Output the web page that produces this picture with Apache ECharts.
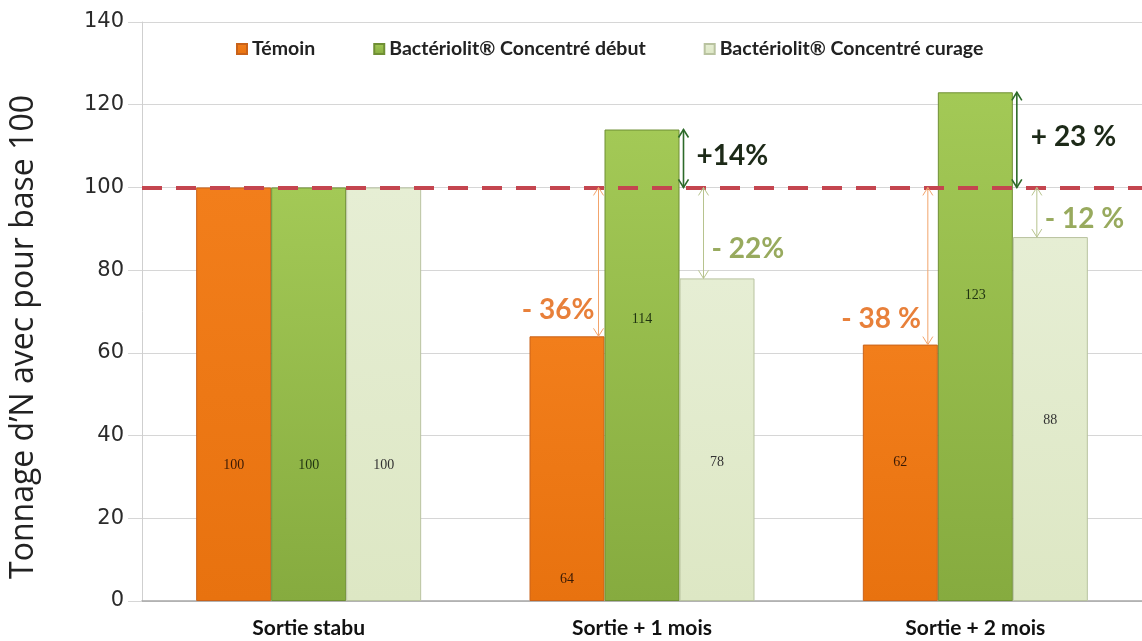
<!DOCTYPE html>
<html>
<head>
<meta charset="utf-8">
<script src="https://cdn.jsdelivr.net/npm/echarts@6/dist/echarts.min.js"></script>
<style>
  html, body { margin: 0; padding: 0; background: #fff; }
  #chart { width: 1142px; height: 641px; }
</style>
</head>
<body>
<div id="chart"></div>
<script>
var categories = ['Sortie stabu', 'Sortie + 1 mois', 'Sortie + 2 mois'];
var seriesNames = ['Témoin', 'Bactériolit® Concentré début', 'Bactériolit® Concentré curage'];
var temoin = [100, 64, 62];
var debut = [100, 114, 123];
var curage = [100, 78, 88];
var baseLine = 100;
// ecarts par rapport a la base 100
var gainDebut = ['', '+14%', '+ 23 %'];
var perteTemoin = ['', '- 36%', '- 38 %'];
var perteCurage = ['', '- 22%', '- 12 %'];

// where the value label sits, in px below the top of the bar
var labelDrop = [
    [278, 243, 118],
    [278, 190, 203],
    [278, 184, 183]
];

var BAR_W = 75;

function items(values, s) {
    return values.map(function (v, i) {
        return { value: v, label: { position: ['50%', labelDrop[s][i]] } };
    });
}

var colors = ['#ef7a17', '#97c04a', '#e2ebcd'];
var fills = [
    new echarts.graphic.LinearGradient(0, 0, 0, 1, [{ offset: 0, color: '#f27e1b' }, { offset: 1, color: '#e8720f' }]),
    new echarts.graphic.LinearGradient(0, 0, 0, 1, [{ offset: 0, color: '#a3c956' }, { offset: 1, color: '#86ab3f' }]),
    new echarts.graphic.LinearGradient(0, 0, 0, 1, [{ offset: 0, color: '#e6eed4' }, { offset: 1, color: '#dde7c4' }])
];
var borders = ['#c9621a', '#6f8f34', '#b9c3a0'];
var labelColors = ['#3a1a05', '#1f3311', '#333'];

var series = [temoin, debut, curage].map(function (vals, s) {
    return {
        name: seriesNames[s],
        type: 'bar',
        barWidth: BAR_W,
        barGap: '0%',
        data: items(vals, s),
        itemStyle: { color: fills[s], borderColor: borders[s], borderWidth: 1 },
        label: {
            show: true,
            align: 'center',
            verticalAlign: 'middle',
            fontFamily: 'Liberation Serif',
            fontSize: 14,
            color: labelColors[s]
        }
    };
});

// ligne de base 100
series[2].markLine = {
    silent: true,
    symbol: ['none', 'none'],
    label: { show: false },
    lineStyle: { color: '#c4454f', width: 4, type: [20, 14] },
    data: [{ yAxis: baseLine }]
};

var chart = echarts.init(document.getElementById('chart'));
var option = {
    backgroundColor: '#fff',
    animation: false,
    color: colors,
    grid: { left: 142, right: -11, top: 22, bottom: 40 },
    legend: {
        left: 231,
        top: 34,
        itemWidth: 10,
        itemHeight: 10,
        itemGap: 58,
        icon: 'rect',
        textStyle: { fontFamily: 'Lato', fontWeight: 'bold', fontSize: 19.5, color: '#222' },
        data: seriesNames
    },
    xAxis: {
        type: 'category',
        data: categories,
        axisLine: { lineStyle: { color: '#a6a6a6', width: 1.5 } },
        axisTick: { show: false },
        axisLabel: { margin: 17, fontFamily: 'Lato', fontWeight: 'bold', fontSize: 21, color: '#111' }
    },
    yAxis: {
        type: 'value',
        min: 0,
        max: 140,
        interval: 20,
        axisLine: { show: true, lineStyle: { color: '#cfcfcf' } },
        axisTick: { show: true, inside: false, length: 14, lineStyle: { color: '#d6d6d6' } },
        splitLine: { lineStyle: { color: '#d6d6d6' } },
        axisLabel: { margin: 18, fontFamily: 'DejaVu Sans', fontSize: 21, color: '#2a2a2a' }
    },
    series: series
};
chart.setOption(option);

// fleches et pourcentages
function px(i, v) {
    return chart.convertToPixel({ gridIndex: 0 }, [i, v]);
}

function arrow(x, y1, y2, color, w) {
    var out = [{
        type: 'line', silent: true, z: 100,
        shape: { x1: x, y1: y1, x2: x, y2: y2 },
        style: { stroke: color, lineWidth: w }
    }];
    [[y1, 1], [y2, -1]].forEach(function (e) {
        out.push({
            type: 'polyline', silent: true, z: 100,
            shape: { points: [[x - 5, e[0] + 8 * e[1]], [x, e[0]], [x + 5, e[0] + 8 * e[1]]] },
            style: { stroke: color, lineWidth: w, fill: null }
        });
    });
    return out;
}

function label(x, y, text, color, align) {
    return {
        type: 'text', silent: true, z: 100, x: x, y: y,
        style: {
            text: text, fill: color, align: align || 'left', verticalAlign: 'middle',
            font: 'bold 28px Lato'
        }
    };
}

var g = [];
for (var i = 1; i < categories.length; i++) {
    var c = px(i, baseLine)[0];
    var yb = px(i, baseLine)[1];
    var yd = px(i, debut[i])[1];
    var yt = px(i, temoin[i])[1];
    var yc = px(i, curage[i])[1];
    // debut
    g = g.concat(arrow(c + BAR_W / 2 + 4, yd, yb, '#2d6a2a', 1.6));
    g.push(label(c + BAR_W / 2 + (i === 1 ? 17 : 18), (yd + yb) / 2 - 3, gainDebut[i], '#1d2a18'));
    // temoin
    var xt = c - BAR_W / 2 - (i === 1 ? 6 : 10);
    g = g.concat(arrow(xt, yb, yt, '#f2a46c', 1));
    g.push(label(xt - (i === 1 ? 4 : 7), yt - 26, perteTemoin[i], '#e8803a', 'right'));
    // curage
    var xc = c + BAR_W / 2 + 24;
    g = g.concat(arrow(xc, yb, yc, '#b7c38e', 1));
    g.push(label(xc + 8, (yb + yc) / 2 + (i === 1 ? 16 : 7), perteCurage[i], '#98aa5e'));
}

g.push({
    type: 'text', silent: true, x: 24, y: 337, rotation: Math.PI / 2,
    style: {
        text: 'Tonnage d’N avec pour base 100', fill: '#222',
        align: 'center', verticalAlign: 'middle', font: '32px "Open Sans"'
    }
});

chart.setOption({ graphic: g });
window.onresize = chart.resize;
</script>
</body>
</html>
